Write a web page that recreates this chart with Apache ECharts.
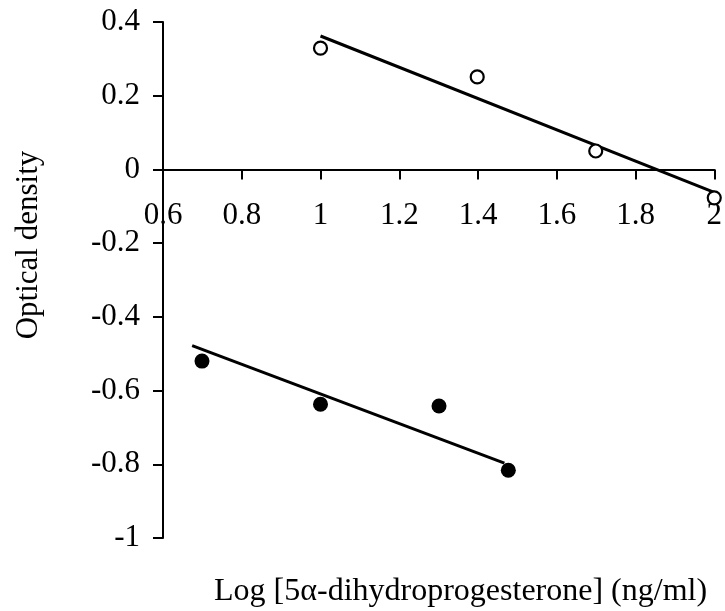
<!DOCTYPE html>
<html>
<head>
<meta charset="utf-8">
<script src="https://cdn.jsdelivr.net/npm/echarts@6/dist/echarts.min.js"></script>
<style>
html,body{margin:0;padding:0;background:#fff;}
#chart{width:725px;height:611px;}
</style>
</head>
<body>
<div id="chart"></div>
<script>
// Data
var openX = [1, 1.398, 1.699, 2];
var openY = [0.329, 0.251, 0.05, -0.077];
var filledX = [0.699, 1, 1.301, 1.477];
var filledY = [-0.52, -0.637, -0.642, -0.816];
var openFitX = [1, 2];
var openFitY = [0.362, -0.062];
var filledFitX = [0.674, 1.467];
var filledFitY = [-0.478, -0.797];
var xTicks = [0.6, 0.8, 1, 1.2, 1.4, 1.6, 1.8, 2];
var yTicks = [-1, -0.8, -0.6, -0.4, -0.2, 0, 0.2, 0.4];
var xTitle = 'Log [5\u03b1-dihydroprogesterone] (ng/ml)';
var yTitle = 'Optical density';

function pairs(xs, ys) { return xs.map(function (x, i) { return [x, ys[i]]; }); }

var FONT = 'Liberation Serif';
var GRID_TOP = 22, GRID_H = 516;
var yMin = yTicks[0], yMax = yTicks[yTicks.length - 1];
// place the x axis at y = 0 (distance from grid bottom to the zero line)
var zeroOffset = -GRID_H * (0 - yMin) / (yMax - yMin);

var chart = echarts.init(document.getElementById('chart'));
chart.setOption({
  backgroundColor: '#ffffff',
  animation: false,
  grid: { left: 163, right: 10, top: GRID_TOP, height: GRID_H },
  xAxis: {
    type: 'value', position: 'bottom', offset: zeroOffset,
    min: xTicks[0], max: xTicks[xTicks.length - 1], interval: 0.2,
    splitLine: { show: false },
    axisLine: { onZero: false, lineStyle: { color: '#000', width: 2 } },
    axisTick: { show: true, length: 10, lineStyle: { color: '#000', width: 2 } },
    axisLabel: {
      color: '#000', fontFamily: FONT, fontSize: 31, margin: 31,
      showMinLabel: true, showMaxLabel: true, hideOverlap: false,
      formatter: function (v) { return String(Math.round(v * 10) / 10); }
    }
  },
  yAxis: {
    type: 'value',
    min: yMin, max: yMax, interval: 0.2,
    splitLine: { show: false },
    axisLine: { onZero: false, lineStyle: { color: '#000', width: 2 } },
    axisTick: { show: true, length: 10, lineStyle: { color: '#000', width: 2 } },
    axisLabel: {
      color: '#000', fontFamily: FONT, fontSize: 31, margin: 23,
      formatter: function (v) { return String(Math.round(v * 10) / 10); }
    }
  },
  graphic: [
    { type: 'text', left: 214, top: 576, z: 10,
      style: { text: xTitle, fill: '#000', fontFamily: FONT, fontSize: 32 } },
    { type: 'text', z: 10, x: 29, y: 245, rotation: Math.PI / 2,
      style: { text: yTitle, fill: '#000', fontFamily: FONT, fontSize: 31, align: 'center', verticalAlign: 'middle' } }
  ],
  series: [
    { type: 'line', data: pairs(openFitX, openFitY), symbol: 'none',
      lineStyle: { color: '#000', width: 3 }, z: 2 },
    { type: 'line', data: pairs(filledFitX, filledFitY), symbol: 'none',
      lineStyle: { color: '#000', width: 3 }, z: 2 },
    { type: 'scatter', data: pairs(openX, openY), symbol: 'circle', symbolSize: 13,
      itemStyle: { color: '#fff', borderColor: '#000', borderWidth: 2.2, opacity: 1 }, z: 3 },
    { type: 'scatter', data: pairs(filledX, filledY), symbol: 'circle', symbolSize: 15,
      itemStyle: { color: '#000', opacity: 1 }, z: 3 }
  ]
});
</script>
</body>
</html>
